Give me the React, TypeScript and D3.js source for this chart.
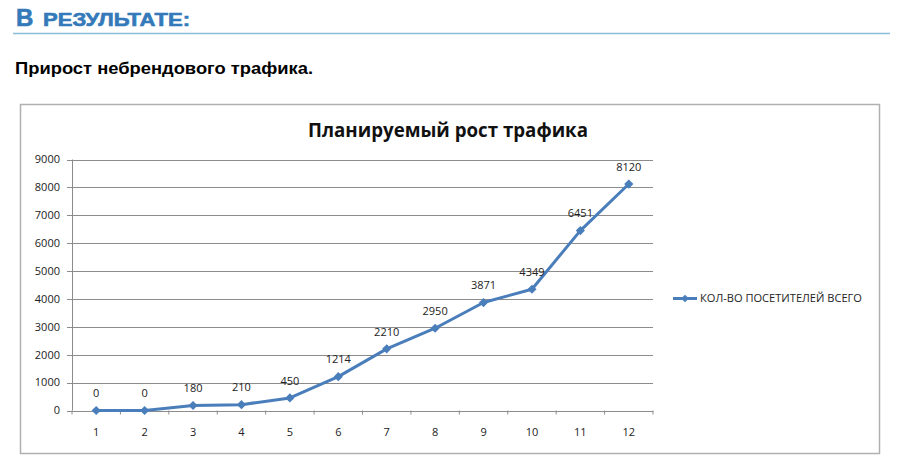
import React, { useMemo } from "react";
import * as d3 from "d3";

const months: string[] = ["1", "2", "3", "4", "5", "6", "7", "8", "9", "10", "11", "12"];
const visitors: number[] = [0, 0, 180, 210, 450, 1214, 2210, 2950, 3871, 4349, 6451, 8120];
const yTicks: number[] = [0, 1000, 2000, 3000, 4000, 5000, 6000, 7000, 8000, 9000];
const headingFirst = "В";
const headingRest = "РЕЗУЛЬТАТЕ:";
const subheading = "Прирост небрендового трафика.";
const chartTitle = "Планируемый рост трафика";
const seriesName = "КОЛ-ВО ПОСЕТИТЕЛЕЙ  ВСЕГО";

const W = 900;
const H = 469;
const plot = { left: 72, right: 653, top: 159.5, bottom: 410.5 };
const lineColor = "#4a7ebb";
const headColor = "#3479b9";
const font = "'Open Sans', 'Noto Sans', sans-serif";

export default function App() {
  const x = useMemo(
    () => d3.scaleBand<string>().domain(months).range([plot.left, plot.right]),
    []
  );
  const y = useMemo(
    () => d3.scaleLinear().domain([0, 9000]).range([plot.bottom, plot.top]),
    []
  );
  const cx = (m: string) => (x(m) ?? 0) + x.bandwidth() / 2;
  const line = d3
    .line<number>()
    .x((_, i) => cx(months[i]))
    .y((d) => y(d));
  const marker = d3.symbol(d3.symbolSquare, 42)() as string;
  const xTickPos = [...months.map((m) => x(m) ?? 0), plot.right];

  return (
    <svg
      width={W}
      height={H}
      style={{ position: "absolute", left: 0, top: 0, background: "#fff" }}
    >
      <rect x={0} y={0} width={W} height={H} fill="#fff" />
      {/* heading */}
      <text
        x={16}
        y={26}
        fill={headColor}
        stroke={headColor}
        strokeWidth={0.6}
        fontFamily="'Liberation Sans', Arial, sans-serif"
        fontWeight="bold"
        fontSize={24}
      >
        {headingFirst}
      </text>
      <text
        x={43}
        y={26}
        fill={headColor}
        stroke={headColor}
        strokeWidth={0.6}
        fontFamily="'Liberation Sans', Arial, sans-serif"
        fontWeight="bold"
        fontSize={18.5}
        textLength={147}
        lengthAdjust="spacingAndGlyphs"
      >
        {headingRest}
      </text>
      <line x1={13} x2={890} y1={33.5} y2={33.5} stroke="#8dbcd8" strokeWidth={1.5} />
      <text
        x={15}
        y={74}
        fill="#000"
        fontFamily="'Liberation Sans', Arial, sans-serif"
        fontWeight="bold"
        fontSize={17}
        textLength={298}
        lengthAdjust="spacingAndGlyphs"
      >
        {subheading}
      </text>

      {/* chart frame */}
      <rect x={20.5} y={104.5} width={859} height={349} fill="#fff" stroke="#b0b0b0" strokeWidth={1.5} />
      <text
        x={448}
        y={137}
        textAnchor="middle"
        fontFamily={font}
        fontWeight="bold"
        fontSize={19}
        fill="#111"
        textLength={280}
        lengthAdjust="spacingAndGlyphs"
      >
        {chartTitle}
      </text>

      {/* gridlines */}
      {yTicks.map((t) => (
        <g key={t}>
          <line
            x1={plot.left - 5}
            x2={plot.right}
            y1={Math.round(y(t)) + 0.5}
            y2={Math.round(y(t)) + 0.5}
            stroke="#8c8c8c"
            strokeWidth={1}
          />
          <text
            x={60}
            y={y(t)}
            dy="0.35em"
            textAnchor="end"
            fontFamily={font}
            fontSize={11}
            fill="#222"
          >
            {t}
          </text>
        </g>
      ))}
      <line x1={plot.left + 0.5} x2={plot.left + 0.5} y1={plot.top} y2={plot.bottom} stroke="#8c8c8c" />
      {xTickPos.map((p, i) => (
        <line key={i} x1={p} x2={p} y1={plot.bottom} y2={plot.bottom + 4} stroke="#8c8c8c" />
      ))}
      {months.map((m) => (
        <text
          key={m}
          x={cx(m)}
          y={432}
          dy="0.35em"
          textAnchor="middle"
          fontFamily={font}
          fontSize={11}
          fill="#222"
        >
          {m}
        </text>
      ))}

      {/* series */}
      <path d={line(visitors) ?? ""} fill="none" stroke={lineColor} strokeWidth={3} strokeLinejoin="round" />
      {visitors.map((v, i) => (
        <g key={i}>
          <path d={marker} transform={`translate(${cx(months[i])},${y(v)}) rotate(45)`} fill={lineColor} />
          <text
            x={cx(months[i])}
            y={y(v) - 17}
            dy="0.35em"
            textAnchor="middle"
            fontFamily={font}
            fontSize={11}
            fill="#222"
          >
            {v}
          </text>
        </g>
      ))}

      {/* legend */}
      <line x1={673} x2={697} y1={298.5} y2={298.5} stroke={lineColor} strokeWidth={3} />
      <path d={d3.symbol(d3.symbolSquare, 30)() as string} transform="translate(685,298.5) rotate(45)" fill={lineColor} />
      <text
        x={700}
        y={298.5}
        dy="0.35em"
        fontFamily={font}
        fontSize={10.5}
        fill="#222"
        textLength={162}
        lengthAdjust="spacingAndGlyphs"
      >
        {seriesName}
      </text>
    </svg>
  );
}
